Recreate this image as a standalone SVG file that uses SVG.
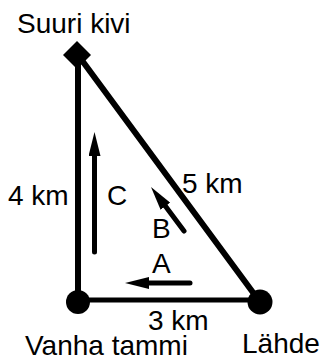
<svg xmlns="http://www.w3.org/2000/svg" width="324" height="360" viewBox="0 0 324 360">
  <defs>
    <style>
      text { font-family: "Liberation Sans", Arial, sans-serif; font-size: 28px; fill: #000; }
      .edge { stroke: #000; fill: none; stroke-linecap: round; }
      .arrow { stroke: #000; stroke-width: 5; fill: none; stroke-linecap: round; marker-end: url(#head); }
      .node { fill: #000; }
    </style>
    <marker id="head" viewBox="0 0 24 12" markerWidth="24" markerHeight="12" refX="2" refY="6" orient="auto" markerUnits="userSpaceOnUse">
      <path d="M0,0 L24,6 L0,12 Z" fill="#000"/>
    </marker>
  </defs>
  <rect width="324" height="360" fill="#fff"/>

  <g id="connectors">
    <line class="edge" x1="78" y1="55" x2="78" y2="302" stroke-width="6"/>
    <line class="edge" x1="78" y1="55" x2="260" y2="302" stroke-width="6"/>
    <line class="edge" x1="78" y1="300" x2="260" y2="300" stroke-width="5"/>
    <text x="8" y="205">4 km</text>
    <text x="182" y="193">5 km</text>
    <text x="148" y="330">3 km</text>
  </g>

  <g id="arrows">
    <line class="arrow" x1="94.5" y1="252" x2="94.5" y2="154"/>
    <text x="107" y="205">C</text>
    <line class="arrow" x1="184" y1="231" x2="164.2" y2="204.6"/>
    <text x="152" y="238">B</text>
    <line class="arrow" x1="190" y1="283" x2="147" y2="283"/>
    <text x="152" y="273">A</text>
  </g>

  <g id="suuri-kivi">
    <polygon class="node" points="77,41 91,55 77,69 63,55"/>
    <text x="17" y="33">Suuri kivi</text>
  </g>
  <g id="vanha-tammi">
    <circle class="node" cx="78" cy="302" r="12"/>
    <text x="25" y="355">Vanha tammi</text>
  </g>
  <g id="lahde">
    <circle class="node" cx="260" cy="302" r="12.5"/>
    <text x="242" y="353">Lähde</text>
  </g>
</svg>
